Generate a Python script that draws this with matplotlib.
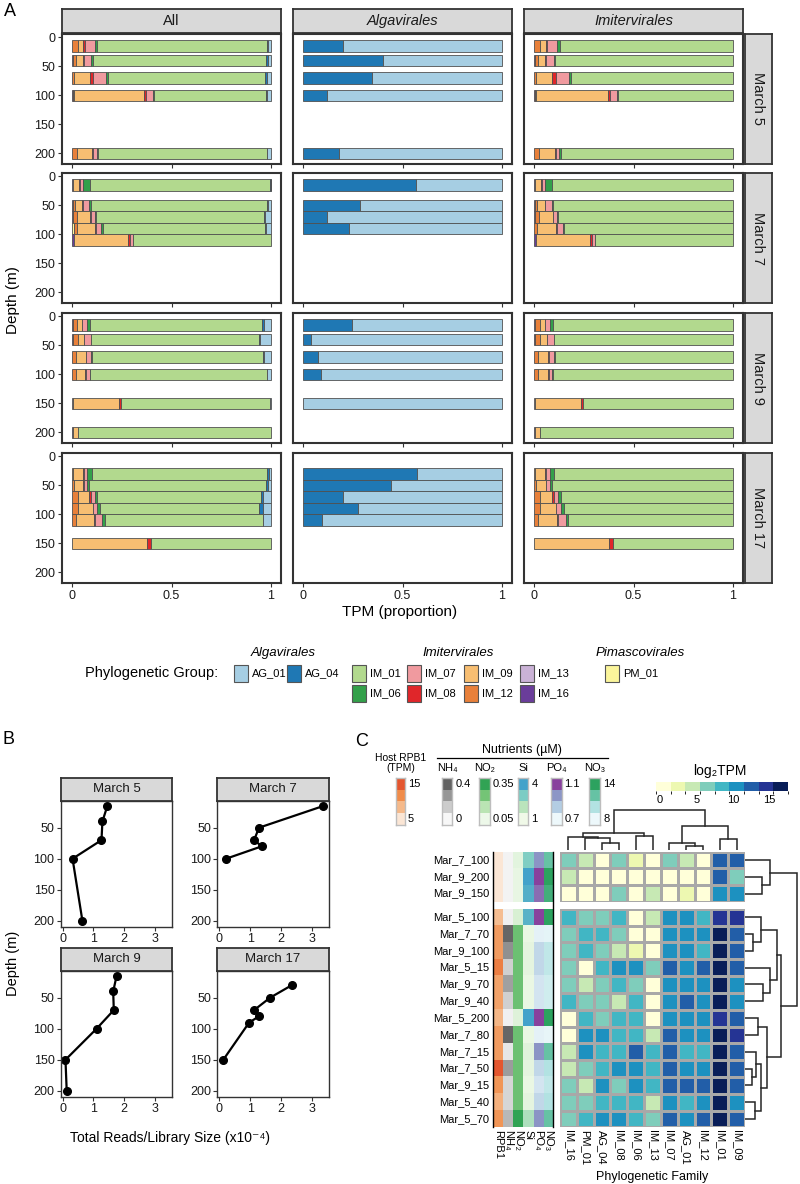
import numpy as np
import matplotlib.pyplot as plt
from matplotlib.colors import ListedColormap, BoundaryNorm, LinearSegmentedColormap, Normalize
from matplotlib.patches import Rectangle
from matplotlib.cm import ScalarMappable

plt.rcParams['font.family'] = ['Liberation Sans', 'DejaVu Sans']

# ---------------- panel A data (fraction of TPM per group) ----------------
months = ["March 5", "March 7", "March 9", "March 17"]
a_month = [0]*5 + [1]*5 + [2]*6 + [3]*6
a_depth = [15, 40, 70, 100, 200,
           15, 50, 70, 80, 100,
           15, 40, 70, 100, 150, 200,
           30, 50, 70, 80, 90, 150]
pm_01 = [0, 0, 0, 0, 0, 0, 0, 0, .010, 0, 0, 0, 0, 0, 0, 0, 0, 0, 0, 0, 0, 0]
im_16 = [0, .003, 0, .006, 0, .004, .005, .005, 0, .010, .005, .005, 0, 0, 0, .005, 0, 0, 0, 0, 0, 0]
im_13 = [0, 0, 0, 0, 0, 0, 0, 0, 0, 0, 0, 0, 0, 0, .005, 0, 0, 0, 0, 0, 0, 0]
im_12 = [.032, .017, .008, .006, .027, 0, .012, .018, .017, 0, .022, .025, .020, .018, 0, 0,
         .007, .010, .028, .028, .018, 0]
im_09 = [.025, .033, .082, .350, .075, .030, .035, .068, .088, .272, .025, .030, .050, .050, .230, .025,
         .047, .047, .058, .078, .093, .377]
im_08 = [.008, .007, .016, .011, .005, .004, .003, .003, .005, .008, 0, .003, .003, .005, .013, 0,
         .007, .003, .012, 0, .004, .022]
im_07 = [.050, .036, .066, .036, .017, .016, .033, .020, .028, .017, .023, .033, .025, .017, 0, 0,
         .017, .017, .017, .022, .038, 0]
im_06 = [.012, .008, .008, .003, .008, .035, .008, .005, .008, 0, .015, 0, .003, .002, 0, 0,
         .022, .010, .012, .012, .012, 0]
im_01 = [.853, .871, .791, .563, .846, .908, .883, .848, .814, .693, .865, .844, .859, .886, .749, .970,
         .879, .888, .823, .802, .793, .601]
ag_04 = [.004, .010, .010, .003, .004, .0017, .006, .004, .007, 0, .011, .0024, .003, .002, 0, 0,
         .012, .011, .010, .016, .004, 0]
ag_01 = [.016, .015, .019, .022, .018, .0013, .015, .029, .023, 0, .034, .0576, .037, .020, .003, 0,
         .009, .014, .040, .042, .038, 0]

group_names = ["PM_01", "IM_16", "IM_13", "IM_12", "IM_09", "IM_08", "IM_07", "IM_06", "IM_01", "AG_04", "AG_01"]
group_vals = np.array([pm_01, im_16, im_13, im_12, im_09, im_08, im_07, im_06, im_01, ag_04, ag_01])
group_cols = {"AG_01": "#a6cee3", "AG_04": "#1f78b4", "IM_01": "#b2d98e", "IM_06": "#33a04a",
              "IM_07": "#f09a9f", "IM_08": "#e0262a", "IM_09": "#f7be72", "IM_12": "#e8803a",
              "IM_13": "#cab2d6", "IM_16": "#6a3d9a", "PM_01": "#fbf59b"}

# ---------------- panel B data ----------------
b_depths = [[15, 40, 70, 100, 200], [15, 50, 70, 80, 100],
            [15, 40, 70, 100, 150, 200], [30, 50, 70, 80, 90, 150]]
b_reads = [[1.45, 1.29, 1.26, 0.32, 0.64], [3.38, 1.29, 1.13, 1.38, 0.22],
           [1.75, 1.64, 1.66, 1.10, 0.09, 0.13], [2.35, 1.65, 1.13, 1.29, 0.97, 0.13]]

# ---------------- panel C data ----------------
hm_rows = ["Mar_7_100", "Mar_9_200", "Mar_9_150", "Mar_5_100", "Mar_7_70", "Mar_9_100", "Mar_5_15",
           "Mar_9_70", "Mar_9_40", "Mar_5_200", "Mar_7_80", "Mar_7_15", "Mar_7_50", "Mar_9_15",
           "Mar_5_40", "Mar_5_70"]
hm_cols = ["IM_16", "PM_01", "AG_04", "IM_08", "IM_06", "IM_13", "IM_07", "AG_01", "IM_12", "IM_01", "IM_09"]
hm_values = [
    [6.6, 4.3, 0.2, 6.4, 2.3, 0.0, 6.7, 4.5, 0.4, 12.3, 12.6],
    [4.2, 0.3, 0.0, 0.5, 0.0, 0.2, 0.6, 0.4, 0.3, 12.2, 6.8],
    [0.5, 0.0, 0.3, 6.3, 0.1, 4.6, 0.4, 2.5, 0.2, 10.6, 10.8],
    [8.4, 6.6, 6.3, 8.6, 0.4, 4.7, 10.3, 10.5, 8.8, 14.6, 14.3],
    [6.7, 8.3, 8.6, 6.5, 0.3, 0.5, 10.6, 10.4, 10.9, 16.4, 12.4],
    [6.4, 8.7, 6.8, 4.5, 2.2, 0.4, 10.8, 10.6, 8.9, 16.1, 12.7],
    [6.6, 0.5, 8.5, 10.3, 10.7, 6.4, 12.4, 10.9, 12.2, 16.6, 12.3],
    [6.8, 4.4, 6.6, 8.4, 6.5, 0.2, 10.5, 10.8, 10.4, 16.3, 10.9],
    [8.7, 6.3, 6.7, 4.6, 8.6, 0.3, 10.7, 12.1, 10.6, 16.5, 10.5],
    [0.4, 8.4, 6.5, 8.7, 8.3, 0.1, 10.4, 10.6, 10.8, 14.8, 12.1],
    [0.2, 10.6, 10.4, 8.5, 8.8, 4.5, 12.3, 10.8, 10.5, 16.4, 14.2],
    [4.4, 10.5, 8.6, 8.4, 12.4, 8.3, 12.6, 8.7, 8.9, 16.2, 12.5],
    [4.6, 6.5, 8.8, 10.3, 10.6, 8.5, 12.2, 10.9, 10.4, 16.6, 12.8],
    [6.5, 4.3, 10.4, 6.7, 10.9, 8.6, 12.4, 12.3, 12.1, 16.3, 12.6],
    [6.3, 6.6, 8.4, 8.7, 8.5, 4.5, 10.6, 8.8, 10.7, 16.5, 10.4],
    [6.6, 8.5, 10.7, 10.5, 8.4, 6.3, 12.5, 10.6, 12.4, 16.2, 12.7],
]
rpb1 = [4.5, 3.5, 3.0, 8.0, 10.5, 10.5, 12.5, 10.0, 10.0, 8.5, 10.5, 10.5, 15.0, 11.0, 9.0, 11.0]
nh4 = [0.01, 0.01, 0.01, 0.02, 0.39, 0.28, 0.12, 0.24, 0.12, 0.02, 0.39, 0.05, 0.25, 0.10, 0.10, 0.18]
no2 = [0.07, 0.06, 0.06, 0.09, 0.26, 0.26, 0.26, 0.26, 0.26, 0.08, 0.26, 0.26, 0.26, 0.26, 0.26, 0.35]
si = [2.9, 4.0, 3.7, 3.6, 1.1, 1.2, 1.2, 1.1, 1.1, 4.0, 1.1, 1.3, 1.2, 1.1, 1.2, 2.2]
po4 = [0.97, 1.10, 1.03, 1.10, 0.72, 0.80, 0.80, 0.76, 0.76, 1.10, 0.72, 0.97, 0.80, 0.76, 0.80, 0.97]
no3 = [12.0, 14.0, 13.2, 14.0, 8.3, 9.5, 9.5, 9.0, 9.0, 14.0, 8.2, 12.0, 10.0, 9.5, 10.0, 12.0]
n_top = 3
# dendrogram merges: (left, right, height); leaves are display positions
col_merges = [(2, 3, 22), (1, 11, 35), (0, 12, 40), (4, 5, 42), (13, 14, 50),
              (7, 8, 12), (6, 16, 20), (9, 10, 33), (17, 18, 72), (15, 19, 120)]
row_merges = [(1, 2, 16.7), (0, 16, 25), (4, 5, 8), (3, 18, 15.7), (7, 8, 17.7), (6, 20, 25),
              (19, 21, 31.7), (9, 10, 13), (12, 13, 7), (11, 24, 11), (14, 15, 10), (25, 26, 16),
              (23, 27, 22), (22, 28, 36), (17, 29, 52)]

W, H = 800, 1184
fig = plt.figure(figsize=(8, 11.84), dpi=100)


def box(x0, y0, x1, y1):
    return fig.add_axes([x0 / W, 1 - y1 / H, (x1 - x0) / W, (y1 - y0) / H])


def put(x, y, s, **kw):
    kw.setdefault('ha', 'center')
    kw.setdefault('va', 'center')
    fig.text(x / W, 1 - y / H, s, **kw)


def strip(x0, y0, x1, y1, label, rot=0, style='normal', size=10):
    sx = box(x0, y0, x1, y1)
    sx.set_facecolor('#d9d9d9')
    sx.set_xticks([]); sx.set_yticks([])
    for sp in sx.spines.values():
        sp.set_color('#333333'); sp.set_linewidth(1.3)
    sx.text(0.5, 0.5, label, transform=sx.transAxes, ha='center', va='center',
            rotation=rot, style=style, fontsize=size, color='#1a1a1a')


def stack_positions(depths, h=20):
    out, prev = [], -1e9
    for d in depths:
        top = max(d - h / 2, prev)
        out.append(top + h / 2)
        prev = top + h
    return out


# ---------------- panel A ----------------
put(10, 12, "A", fontsize=13)
a_cols = [("All", 'normal', group_names, 62, 281),
          ("Algavirales", 'italic', ["AG_04", "AG_01"], 293, 512),
          ("Imitervirales", 'italic', ["IM_16", "IM_13", "IM_12", "IM_09", "IM_08", "IM_07", "IM_06", "IM_01"], 524, 743)]
row_tops = [34, 173, 313, 453]
row_h = 130
for c, (title, style, names, x0, x1) in enumerate(a_cols):
    strip(x0, 9, x1, 33, title, style=style, size=10.5)
    gi = [group_names.index(n) for n in names]
    for r, m in enumerate(months):
        ax = box(x0, row_tops[r], x1, row_tops[r] + row_h)
        idx = [i for i in range(len(a_month)) if a_month[i] == r]
        ypos = stack_positions([a_depth[i] for i in idx])
        for i, yp in zip(idx, ypos):
            v = group_vals[gi, i]
            tot = v.sum()
            if tot <= 0:
                continue
            v = v / tot
            left = 0.0
            for n, fr in zip(names, v):
                if fr > 0:
                    ax.barh(yp, fr, left=left, height=20, color=group_cols[n],
                            edgecolor='#505050', linewidth=0.6)
                left += fr
        ax.set_xlim(-0.05, 1.05)
        ax.set_ylim(218.4, -5.9)
        for sp in ax.spines.values():
            sp.set_color('#333333'); sp.set_linewidth(1.5)
        ax.set_xticks([0, 0.5, 1])
        ax.set_yticks([0, 50, 100, 150, 200])
        ax.tick_params(length=3, color='#333333', labelsize=9, pad=2, labelcolor='#1a1a1a')
        if r < 3:
            ax.set_xticklabels([])
        else:
            ax.set_xticklabels(["0", "0.5", "1"])
        if c > 0:
            ax.tick_params(axis='y', length=0)
            ax.set_yticklabels([])
        if c == 2:
            strip(745, row_tops[r], 772, row_tops[r] + row_h, m, rot=270, size=10.5)
put(13, 300, "Depth (m)", rotation=90, fontsize=11)
put(400, 612, "TPM (proportion)", fontsize=11)

# legend of panel A
put(218, 673, "Phylogenetic Group:", ha='right', fontsize=10.5)
put(283, 653, "Algavirales", style='italic', fontsize=9.5)
put(458, 653, "Imitervirales", style='italic', fontsize=9.5)
put(640, 653, "Pimascovirales", style='italic', fontsize=9.5)
leg_items = [("AG_01", 234, 673), ("AG_04", 287, 673),
             ("IM_01", 352, 673), ("IM_07", 407, 673), ("IM_09", 464, 673), ("IM_13", 520, 673),
             ("IM_06", 352, 693), ("IM_08", 407, 693), ("IM_12", 464, 693), ("IM_16", 520, 693),
             ("PM_01", 605, 673)]
for name, kx, ky in leg_items:
    fig.patches.append(Rectangle((kx / W, 1 - (ky + 8.5) / H), 14 / W, 17 / H,
                                 transform=fig.transFigure, facecolor=group_cols[name],
                                 edgecolor='#555555', linewidth=0.8))
    put(kx + 18, ky, name, ha='left', fontsize=8)

# ---------------- panel B ----------------
put(9, 740, "B", fontsize=13)
b_x = [60.7, 217.3]
b_top = [801, 971]
for i, m in enumerate(months):
    x0 = b_x[i % 2]
    t = b_top[i // 2]
    ax = box(x0, t, x0 + 111.6, t + 126)
    ax.plot(b_reads[i], b_depths[i], '-o', color='black', lw=1.6, ms=5.5)
    ax.set_xlim(-0.065, 3.56)
    ax.set_ylim(210, 7)
    ax.set_xticks([0, 1, 2, 3])
    ax.set_yticks([50, 100, 150, 200])
    ax.tick_params(length=3, labelsize=9, pad=1.5, color='#333333', labelcolor='#1a1a1a')
    for sp in ax.spines.values():
        sp.set_color('#333333'); sp.set_linewidth(1.0)
    strip(x0, t - 23, x0 + 111.6, t, m, size=9.5)
put(13, 963, "Depth (m)", rotation=90, fontsize=10.5)
put(170, 1138, "Total Reads/Library Size (x10\u207b\u2074)", fontsize=10)

# ---------------- panel C ----------------
put(362, 741, "C", fontsize=13)
ann_specs = [("rpb1", rpb1, ['#fbe6d5', '#f5b98a', '#f08c4a', '#e4562f'], 5, 15, "15", "5", 396, 405),
             ("nh4", nh4, ['#f7f7f7', '#cccccc', '#969696', '#636363'], 0, 0.4, "0.4", "0", 441.7, 452.3),
             ("no2", no2, ['#edf8e9', '#bae4b3', '#74c476', '#31a354'], 0.05, 0.35, "0.35", "0.05", 479, 490),
             ("si", si, ['#f0f9e8', '#bae4bc', '#7bccc4', '#43a2ca'], 1, 4, "4", "1", 517.7, 528.3),
             ("po4", po4, ['#edf8fb', '#b3cde3', '#8c96c6', '#88419d'], 0.7, 1.1, "1.1", "0.7", 550.5, 561.5),
             ("no3", no3, ['#edf8fb', '#b2e2e2', '#66c2a4', '#2ca25f'], 8, 14, "14", "8", 589, 600)]
ann_titles = ["", "NH\u2084", "NO\u2082", "Si", "PO\u2084", "NO\u2083"]
ann_labels = ["RPB1", "NH\u2084", "NO\u2082", "Si", "PO\u2084", "NO\u2083"]
put(401, 758, "Host RPB1", fontsize=7.5)
put(401, 768, "(TPM)", fontsize=7.5)
put(522, 750, "Nutrients (\u00b5M)", fontsize=9)
fig.lines.append(plt.Line2D([437 / W, 608 / W], [1 - 758 / H, 1 - 758 / H],
                            transform=fig.transFigure, color='black', lw=0.9))
ann_rgb = np.zeros((len(hm_rows), len(ann_specs), 3))
for k, (key, vals, cols, lo, hi, tlab, blab, lx0, lx1) in enumerate(ann_specs):
    cm = LinearSegmentedColormap.from_list(key, cols)
    ann_rgb[:, k, :] = cm(Normalize(lo, hi, clip=True)(np.array(vals)))[:, :3]
    lax = box(lx0, 778, lx1, 825)
    block = np.array([[ListedColormap(cols)(3 - j)[:3]] for j in range(4)])
    lax.imshow(block, aspect='auto', interpolation='nearest')
    lax.set_xticks([]); lax.set_yticks([])
    for sp in lax.spines.values():
        sp.set_color('#bdbdbd'); sp.set_linewidth(1.0)
    put(lx1 + 3, 784, tlab, ha='left', fontsize=8)
    put(lx1 + 3, 819, blab, ha='left', fontsize=8)
    if ann_titles[k]:
        put((lx0 + lx1) / 2, 768, ann_titles[k], fontsize=8)

# main colormap
ylgnbu = ['#ffffd9', '#edf8b1', '#c7e9b4', '#7fcdbb', '#41b6c4', '#1d91c0', '#225ea8', '#253494', '#081d58']
hm_cmap = ListedColormap(ylgnbu)
hm_norm = BoundaryNorm([-0.5, 1.5, 3.5, 5.5, 7.5, 9.5, 11.5, 13.5, 15.5, 17.5], hm_cmap.N)
cax = box(656, 782, 788, 791)
cb = fig.colorbar(ScalarMappable(norm=hm_norm, cmap=hm_cmap), cax=cax, orientation='horizontal')
cb.outline.set_visible(False)
cb.set_ticks([0, 5, 10, 15])
cb.ax.tick_params(length=0, labelsize=8, pad=3)
put(720, 771, "log\u2082TPM", fontsize=10)

hm = np.array(hm_values)
rh = 16.83
gap = 6.7
y_top = 851.5
groups = [(0, n_top, y_top), (n_top, len(hm_rows), y_top + n_top * rh + gap)]
for (r0, r1, gy) in groups:
    ax = box(560, gy, 745, gy + (r1 - r0) * rh)
    ax.pcolormesh(hm[r0:r1], cmap=hm_cmap, norm=hm_norm, edgecolors='#a8a8a8', linewidth=1.0)
    ax.set_ylim(r1 - r0, 0)
    ax.axis('off')
    aax = box(492.7, gy, 553.3, gy + (r1 - r0) * rh)
    aax.imshow(ann_rgb[r0:r1], aspect='auto', interpolation='nearest')
    aax.axis('off')
    for j in range(r0, r1):
        put(489, gy + (j - r0 + 0.5) * rh, hm_rows[j], ha='right', fontsize=8)
frame = box(492.7, y_top, 553.3, y_top + len(hm_rows) * rh + gap)
frame.patch.set_alpha(0)
frame.set_xticks([]); frame.set_yticks([])
frame.spines['top'].set_visible(False)
frame.spines['bottom'].set_visible(False)
for s in ['left', 'right']:
    frame.spines[s].set_linewidth(1.0)

y_bot = y_top + len(hm_rows) * rh + gap
for j, name in enumerate(hm_cols):
    put(560 + (j + 0.5) * 16.82, y_bot + 3, name, rotation=270, va='top', fontsize=8)
aw = (553.3 - 492.7) / 6
for k, name in enumerate(ann_labels):
    put(492.7 + (k + 0.5) * aw, y_bot + 3, name, rotation=270, va='top', fontsize=8)
put(652, 1177, "Phylogenetic Family", fontsize=9)


def dendro(ax, merges, leaf_pos, vertical):
    pos = {i: p for i, p in enumerate(leaf_pos)}
    hgt = {i: 0.0 for i in range(len(leaf_pos))}
    n = len(leaf_pos)
    for k, (a, b, h) in enumerate(merges):
        xs = [pos[a], pos[a], pos[b], pos[b]]
        ys = [hgt[a], h, h, hgt[b]]
        if vertical:
            ax.plot(xs, ys, color='#262626', lw=1.1, solid_joinstyle='miter')
        else:
            ax.plot(ys, xs, color='#262626', lw=1.1, solid_joinstyle='miter')
        pos[n + k] = (pos[a] + pos[b]) / 2
        hgt[n + k] = h


dax = box(560, 808, 745, 850)
dendro(dax, col_merges, [j + 0.5 for j in range(len(hm_cols))], True)
dax.set_xlim(0, len(hm_cols)); dax.set_ylim(0, 126)
dax.axis('off')

rax = box(745, y_top, 800, y_bot)
leaf_y = [j + 0.5 for j in range(n_top)] + [n_top + gap / rh + j + 0.5 for j in range(len(hm_rows) - n_top)]
dendro(rax, row_merges, leaf_y, False)
rax.set_xlim(0, 55); rax.set_ylim(len(hm_rows) + gap / rh, 0)
rax.axis('off')

fig.savefig("out.png", dpi=100)
